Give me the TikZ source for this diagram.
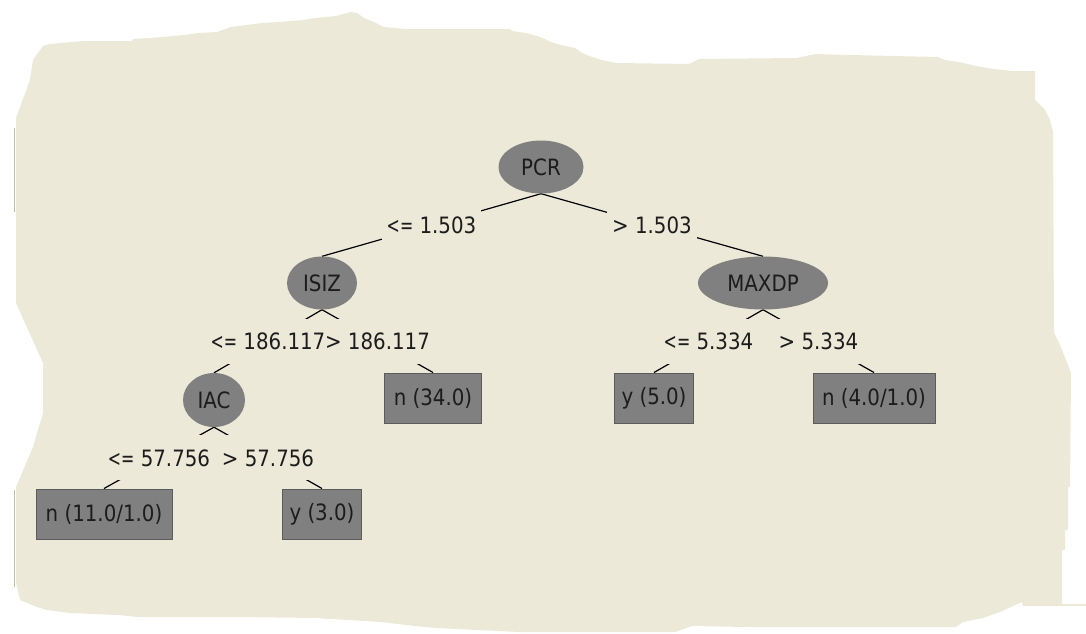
\documentclass[tikz,border=0pt]{standalone}
\usepackage{graphicx}
\usepackage{fontspec}
\setmainfont{DejaVu Sans}[FakeStretch=0.88]
\usetikzlibrary{shapes.geometric}

\definecolor{paper}{HTML}{ECE9D8}
\definecolor{nodegray}{HTML}{808080}
\definecolor{boxedge}{HTML}{5C5C5C}
\definecolor{ink}{HTML}{1C1C1C}
\definecolor{rim}{HTML}{BEBDB0}

\pgfdeclarelayer{paperlayer}
\pgfdeclarelayer{cover}
\pgfsetlayers{paperlayer,cover,main}

% narrow "<=" as printed by the tree viewer
\newcommand\lteq{\scalebox{0.8}[1]{<=}}

\tikzset{
  treefont/.style={font=\fontsize{22.5}{27}\selectfont, text=ink},
  split/.style={ellipse, fill=nodegray, inner sep=0pt, treefont},
  leaf/.style={rectangle, fill=nodegray, draw=boxedge, line width=1pt,
    minimum height=50pt, inner sep=0pt, treefont},
  cond/.style={inner xsep=5pt, inner ysep=14pt, text height=16.4pt,
    text depth=0pt, treefont},
  branch/.style={draw=black, line width=1.2pt},
}

\begin{document}
\begin{tikzpicture}[x=1pt, y=-1pt]
\useasboundingbox (0,0) rectangle (1086,633);

% inner nodes
\node[split, minimum width=85pt, minimum height=53pt]  (pcr)   at (541,167) {PCR};
\node[split, minimum width=70pt, minimum height=53pt]  (isiz)  at (322,283) {ISIZ};
\node[split, minimum width=130pt, minimum height=53pt] (maxdp) at (763,283) {MAXDP};
\node[split, minimum width=62pt, minimum height=54pt]  (iac)   at (214,400) {IAC};

% leaves
\node[leaf, minimum width=97pt]  (n34)  at (433,398) {n (34.0)};
\node[leaf, minimum width=79pt]  (y5)   at (654,398) {y (5.0)};
\node[leaf, minimum width=122pt] (n41)  at (874,398) {n (4.0/1.0)};
\node[leaf, minimum width=136pt] (n111) at (104,514) {n (11.0/1.0)};
\node[leaf, minimum width=79pt]  (y3)   at (322,514) {y (3.0)};

% split conditions, centred on their branches
\path (pcr.south)   -- (isiz.north)  node[cond, midway] (c1) {\lteq\ 1.503};
\path (pcr.south)   -- (maxdp.north) node[cond, midway] (c2) {> 1.503};
\path (isiz.south)  -- (iac.north)   node[cond, midway] (c3) {\lteq\ 186.117};
\path (isiz.south)  -- (n34.north)   node[cond, midway] (c4) {> 186.117};
\path (maxdp.south) -- (y5.north)    node[cond, midway] (c5) {\lteq\ 5.334};
\path (maxdp.south) -- (n41.north)   node[cond, midway] (c6) {> 5.334};
\path (iac.south)   -- (n111.north)  node[cond, midway] (c7) {\lteq\ 57.756};
\path (iac.south)   -- (y3.north)    node[cond, midway] (c8) {> 57.756};

% label backgrounds hide the middle of each branch
\begin{pgfonlayer}{cover}
  \foreach \c in {c1,c2,c3,c4,c5,c6,c7,c8}
    \fill[paper] (\c.south west) rectangle (\c.north east);
\end{pgfonlayer}

\begin{pgfonlayer}{paperlayer}
  % torn paper sheet
  \fill[paper] (16,118) -- (20,107) -- (30,80) -- (33,60) -- (43,46) -- (50,44)
    -- (84,41) -- (132,41) -- (133,39) -- (163,37)
    -- (184,35) -- (199,33) -- (217,32) -- (231,27) -- (246,25) -- (262,23)
    -- (279,22) -- (303,20) -- (315,18) -- (336,16) -- (351,12) -- (357,13)
    -- (364,18) -- (374,22) -- (384,27) -- (405,29) -- (510,29) -- (512,31)
    -- (526,33) -- (540,37) -- (551,42) -- (561,45) -- (575,48) -- (582,53)
    -- (592,57) -- (602,60) -- (616,63) -- (689,64) -- (699,59) -- (796,58)
    -- (816,54) -- (850,55) -- (938,57) -- (945,60) -- (959,62) -- (976,66)
    -- (994,69) -- (1011,71) -- (1035,71) -- (1035,100) -- (1040,105)
    -- (1045,110) -- (1050,120) -- (1053,132) -- (1054,333) -- (1060,345)
    -- (1066,360) -- (1071,373) -- (1070,487) -- (1068,487) -- (1068,530)
    -- (1065,530) -- (1065,550) -- (1062,550) -- (1062,606) -- (1023,606)
    -- (1022,602) -- (1013,606) -- (1000,612) -- (983,618) -- (963,622)
    -- (956,627) -- (748,627) -- (692,626) -- (675,632) -- (519,632)
    -- (436,628) -- (415,626) -- (381,622) -- (332,619) -- (315,618)
    -- (239,617) -- (138,617) -- (118,615) -- (70,613) -- (47,610)
    -- (37,607) -- (20,600) -- (16,583) -- (16,487) -- (33,447) -- (43,413)
    -- (43,363) -- (16,303) -- cycle;
  \fill[paper] (1062,603.5) rectangle (1086,606);

  % faint rim of the sheet on the left
  \draw[rim, line width=1pt] (14,128) -- (14,212);
  \draw[rim, line width=1pt] (14,490) -- (14,587);

  % branches
  \draw[branch] (pcr.south)   -- (isiz.north);
  \draw[branch] (pcr.south)   -- (maxdp.north);
  \draw[branch] (isiz.south)  -- (iac.north);
  \draw[branch] (isiz.south)  -- (n34.north);
  \draw[branch] (maxdp.south) -- (y5.north);
  \draw[branch] (maxdp.south) -- (n41.north);
  \draw[branch] (iac.south)   -- (n111.north);
  \draw[branch] (iac.south)   -- (y3.north);
\end{pgfonlayer}
\end{tikzpicture}
\end{document}
